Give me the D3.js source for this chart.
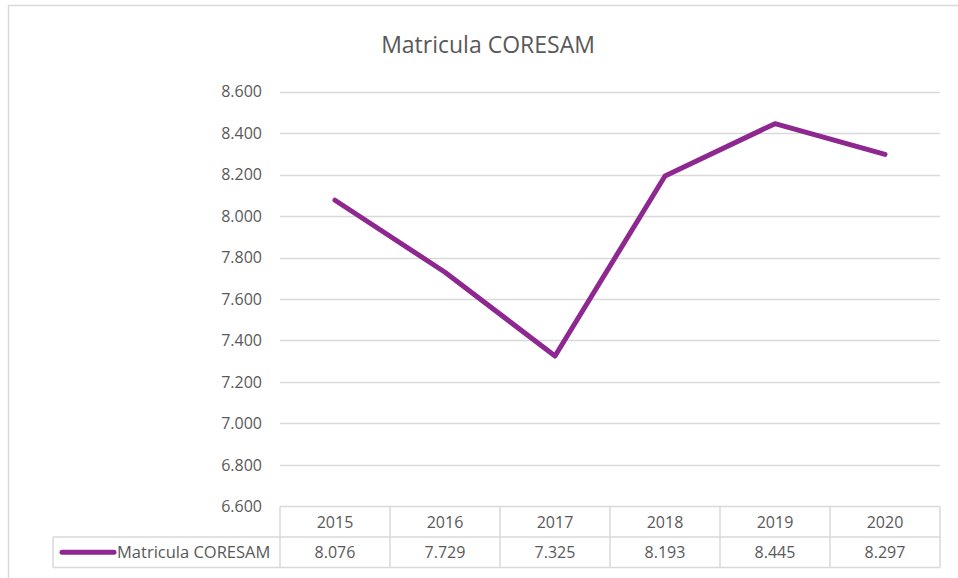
<!DOCTYPE html>
<html>
<head>
<meta charset="utf-8">
<title>Matricula CORESAM</title>
<script src="https://cdn.jsdelivr.net/npm/d3@7"></script>
<style>
    body { margin: 0; background: #fff; }
    text { font-family: "Open Sans", "Noto Sans", sans-serif; fill: #595959; }
</style>
</head>
<body>
<svg id="chart" width="958" height="578"></svg>
<script>
    // data
    var years = ["2015", "2016", "2017", "2018", "2019", "2020"];
    var values = [8.076, 7.729, 7.325, 8.193, 8.445, 8.297];
    var yTicks = [6.6, 6.8, 7.0, 7.2, 7.4, 7.6, 7.8, 8.0, 8.2, 8.4, 8.6];
    var seriesName = "Matricula CORESAM";

    var purple = "#8e278f";
    var grey = "#d9d9d9";

    var svg = d3.select("#chart");

    // outer chart frame (runs off the right and bottom edges)
    svg.append("rect")
        .attr("x", 8.5).attr("y", 5.5)
        .attr("width", 1000).attr("height", 700)
        .attr("fill", "none").attr("stroke", grey).attr("stroke-width", 1.5);

    svg.append("text")
        .attr("x", 488).attr("y", 53)
        .attr("text-anchor", "middle")
        .style("font-size", "23px")
        .text(seriesName);

    var plotL = 280, plotR = 940, plotT = 91.5, plotB = 506.5;

    var x = d3.scaleBand().domain(years).range([plotL, plotR]);
    var y = d3.scaleLinear().domain([6.6, 8.6]).range([plotB, plotT]);
    var fmt = d3.format(".3f");

    // gridlines
    svg.append("g").selectAll("line")
        .data(yTicks.slice(1))
        .enter().append("line")
        .attr("x1", plotL).attr("x2", plotR)
        .attr("y1", function(d) { return Math.round(y(d)) + 0.5; })
        .attr("y2", function(d) { return Math.round(y(d)) + 0.5; })
        .attr("stroke", grey).attr("stroke-width", 1.3);

    // y labels
    svg.append("g").selectAll("text")
        .data(yTicks)
        .enter().append("text")
        .attr("x", 262)
        .attr("y", function(d) { return y(d) + 5.5; })
        .attr("text-anchor", "end")
        .style("font-size", "16px")
        .text(function(d) { return fmt(d); });

    // the line
    var line = d3.line()
        .x(function(d, i) { return x(years[i]) + x.bandwidth() / 2; })
        .y(function(d) { return y(d); });

    svg.append("path")
        .datum(values)
        .attr("d", line)
        .attr("fill", "none")
        .attr("stroke", purple)
        .attr("stroke-width", 5)
        .attr("stroke-linecap", "round")
        .attr("stroke-linejoin", "round");

    // data table
    var rowH = 30.5;
    var tbl = svg.append("g").attr("stroke", grey).attr("stroke-width", 1.5).attr("fill", "none");
    tbl.append("line").attr("x1", plotL).attr("x2", plotR).attr("y1", plotB).attr("y2", plotB);
    tbl.append("line").attr("x1", 53).attr("x2", plotR).attr("y1", plotB + rowH).attr("y2", plotB + rowH);
    tbl.append("line").attr("x1", 53).attr("x2", plotR).attr("y1", plotB + 2 * rowH).attr("y2", plotB + 2 * rowH);
    tbl.append("line").attr("x1", 53).attr("x2", 53).attr("y1", plotB + rowH).attr("y2", plotB + 2 * rowH);
    tbl.selectAll(".vcol")
        .data(years.concat(["end"]))
        .enter().append("line")
        .attr("class", "vcol")
        .attr("x1", function(d, i) { return plotL + i * x.bandwidth(); })
        .attr("x2", function(d, i) { return plotL + i * x.bandwidth(); })
        .attr("y1", plotB).attr("y2", plotB + 2 * rowH);

    svg.append("g").selectAll("text")
        .data(years)
        .enter().append("text")
        .attr("x", function(d) { return x(d) + x.bandwidth() / 2; })
        .attr("y", plotB + 21)
        .attr("text-anchor", "middle")
        .style("font-size", "16px")
        .text(function(d) { return d; });

    svg.append("g").selectAll("text")
        .data(values)
        .enter().append("text")
        .attr("x", function(d, i) { return x(years[i]) + x.bandwidth() / 2; })
        .attr("y", plotB + rowH + 21)
        .attr("text-anchor", "middle")
        .style("font-size", "16px")
        .text(function(d) { return fmt(d); });

    // legend key in table
    svg.append("line")
        .attr("x1", 62).attr("x2", 114)
        .attr("y1", plotB + rowH * 1.5).attr("y2", plotB + rowH * 1.5)
        .attr("stroke", purple).attr("stroke-width", 5).attr("stroke-linecap", "round");
    svg.append("text")
        .attr("x", 117).attr("y", plotB + rowH + 21)
        .style("font-size", "16.5px")
        .text(seriesName);
</script>
</body>
</html>
